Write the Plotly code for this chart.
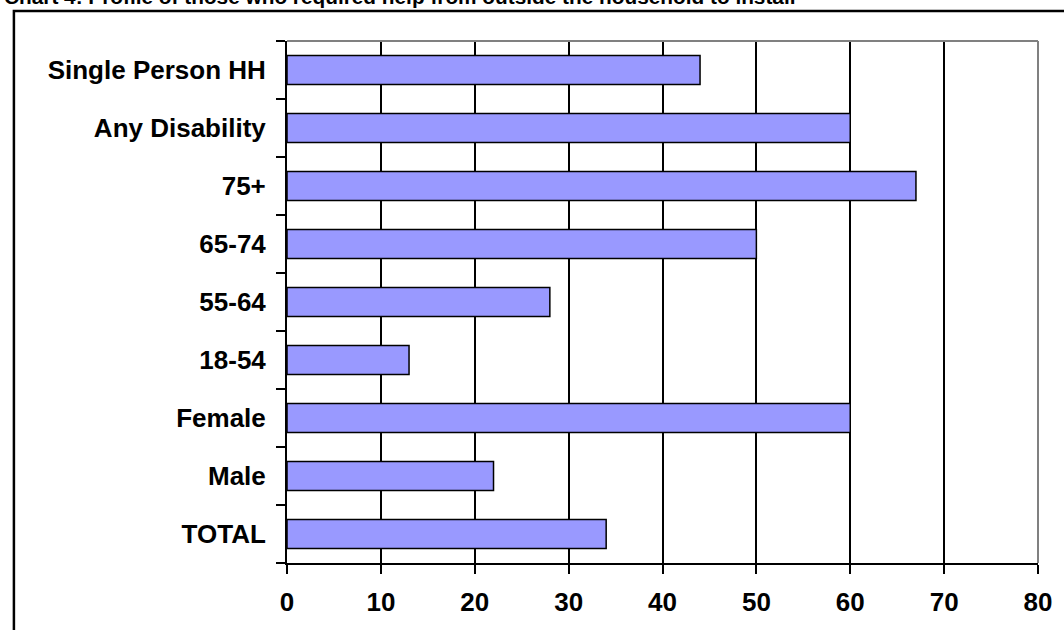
import plotly.graph_objects as go

# Profile of respondents who required help from outside the household
categories = ["TOTAL", "Male", "Female", "18-54", "55-64", "65-74", "75+",
              "Any Disability", "Single Person HH"]
percent = [34, 22, 60, 13, 28, 50, 67, 60, 44]
x_ticks = [0, 10, 20, 30, 40, 50, 60, 70, 80]

title_text = "Chart 4: Profile of those who required help from outside the household to install"

FONT = "Arial, 'Liberation Sans', sans-serif"

W, H = 1064, 630
L, R, T, B = 287, 18, 41, 67
pw, ph = W - L - R, H - T - B


def px_x(p):
    return (p - L) / pw


def px_y(p):
    return (H - B - p) / ph


fig = go.Figure(
    go.Bar(
        x=percent,
        y=categories,
        orientation="h",
        width=0.5,
        marker=dict(color="#9999FF", line=dict(color="#000000", width=1.5)),
        hoverinfo="x+y",
    )
)

fig.update_layout(
    width=W,
    height=H,
    margin=dict(l=L, r=R, t=T, b=B, pad=0),
    paper_bgcolor="#FFFFFF",
    plot_bgcolor="#FFFFFF",
    showlegend=False,
    font=dict(family=FONT, color="#000000"),
    xaxis=dict(
        range=[0, 80],
        tickvals=x_ticks,
        ticktext=[str(v) for v in x_ticks],
        showgrid=True,
        gridcolor="#000000",
        gridwidth=1.5,
        zeroline=False,
        showline=True,
        linecolor="#000000",
        linewidth=2,
        ticks="outside",
        ticklen=9,
        tickwidth=1.5,
        tickcolor="#000000",
        ticklabelstandoff=6,
        tickfont=dict(family=FONT, size=26, color="#000000", weight="bold"),
        fixedrange=True,
    ),
    yaxis=dict(
        type="category",
        categoryorder="array",
        categoryarray=categories,
        range=[-0.5, len(categories) - 0.5],
        showgrid=False,
        zeroline=False,
        showline=True,
        linecolor="#000000",
        linewidth=2,
        ticks="outside",
        tickson="boundaries",
        ticklen=9,
        tickwidth=1.5,
        tickcolor="#000000",
        ticklabelstandoff=14,
        tickfont=dict(family=FONT, size=26, color="#000000", weight="bold"),
        fixedrange=True,
    ),
    shapes=[
        # grey plot-area edges (top and right)
        dict(type="line", xref="paper", yref="paper", x0=0, x1=1, y0=1, y1=1,
             line=dict(color="#808080", width=2), layer="above"),
        dict(type="line", xref="paper", yref="paper", x0=1, x1=1, y0=0, y1=1,
             line=dict(color="#808080", width=2), layer="above"),
        # outer chart frame
        dict(type="rect", xref="paper", yref="paper",
             x0=px_x(11), x1=px_x(1090), y0=px_y(660), y1=px_y(11),
             line=dict(color="#000000", width=2.5), layer="below"),
    ],
    annotations=[
        dict(text="<b>" + title_text + "</b>", xref="paper", yref="paper",
             x=px_x(-1), y=px_y(10), xanchor="left", yanchor="bottom",
             showarrow=False, font=dict(family=FONT, size=20.8, color="#000000")),
    ],
)

fig.write_html("out.html")
